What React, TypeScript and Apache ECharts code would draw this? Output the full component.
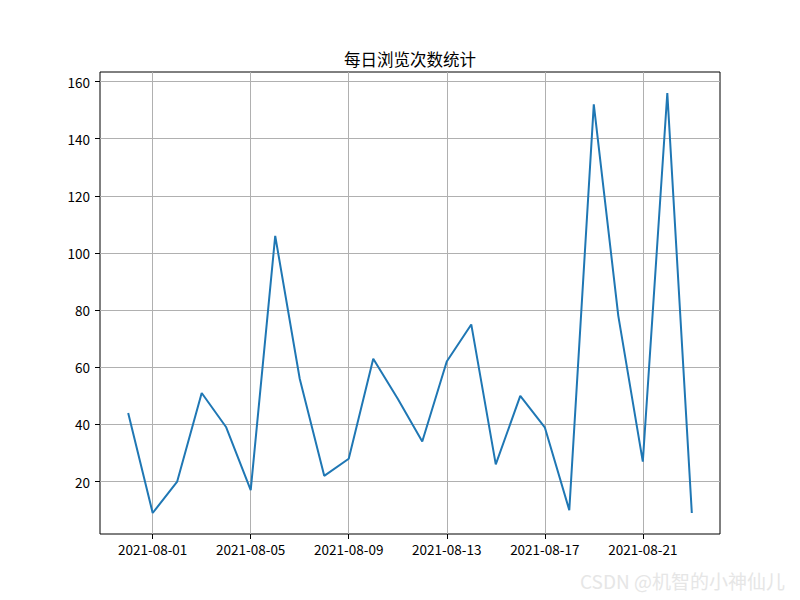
import React, { useEffect, useRef } from "react";
import * as echarts from "echarts";

const dates = [
  "2021-07-31", "2021-08-01", "2021-08-02", "2021-08-03", "2021-08-04", "2021-08-05",
  "2021-08-06", "2021-08-07", "2021-08-08", "2021-08-09", "2021-08-10", "2021-08-11",
  "2021-08-12", "2021-08-13", "2021-08-14", "2021-08-15", "2021-08-16", "2021-08-17",
  "2021-08-18", "2021-08-19", "2021-08-20", "2021-08-21", "2021-08-22", "2021-08-23",
];
const views = [44, 9, 20, 51, 39, 17, 106, 56, 22, 28, 63, 49, 34, 62, 75, 26, 50, 39, 10, 152, 78, 27, 156, 9];
const xTickLabels = ["2021-08-01", "2021-08-05", "2021-08-09", "2021-08-13", "2021-08-17", "2021-08-21"];
const yTicks = [20, 40, 60, 80, 100, 120, 140, 160];
const title = "每日浏览次数统计";
const watermark = "CSDN @机智的小神仙儿";

const FONT = "'Noto Sans CJK SC', 'Liberation Sans', sans-serif";

export default function App() {
  const ref = useRef<HTMLDivElement>(null);
  useEffect(() => {
    if (!ref.current) return;
    const chart = echarts.init(ref.current, undefined, { renderer: "svg" });
    const xTickIdx = xTickLabels.map((d) => dates.indexOf(d));
    const n = dates.length - 1;
    const vMin = Math.min(...views);
    const vMax = Math.max(...views);
    const xPad = n * 0.05;
    const yPad = (vMax - vMin) * 0.05;
    chart.setOption({
      animation: false,
      backgroundColor: "#ffffff",
      textStyle: { fontFamily: FONT },
      grid: {
        left: 100,
        top: 72,
        width: 620,
        height: 462,
        show: true,
        borderColor: "#000",
        borderWidth: 1,
        backgroundColor: "transparent",
      },
      graphic: [
        {
          type: "text",
          x: 410,
          y: 59,
          style: {
            text: title,
            fontFamily: FONT,
            fontSize: 16.5,
            fill: "#000",
            textAlign: "center",
            textVerticalAlign: "middle",
          },
        },
        {
          type: "text",
          x: 785,
          y: 580,
          style: {
            text: watermark,
            fontFamily: FONT,
            fontSize: 19,
            fill: "#e6e6e6",
            textAlign: "right",
            textVerticalAlign: "middle",
          },
        },
      ],
      xAxis: {
        type: "value",
        min: -xPad,
        max: n + xPad,
        position: "bottom",
        axisLine: { show: false, onZero: false },
        axisTick: {
          show: true,
          customValues: xTickIdx,
          length: 5,
          lineStyle: { color: "#000", width: 1 },
        },
        axisLabel: {
          customValues: xTickIdx,
          formatter: (v: number) => dates[Math.round(v)] ?? "",
          color: "#000",
          fontFamily: FONT,
          fontSize: 13.5,
          margin: 8,
        },
        splitLine: { show: true, lineStyle: { color: "#b0b0b0", width: 1 } },
      },
      yAxis: {
        type: "value",
        min: vMin - yPad,
        max: vMax + yPad,
        position: "left",
        axisLine: { show: false, onZero: false },
        axisTick: {
          show: true,
          customValues: yTicks,
          length: 5,
          lineStyle: { color: "#000", width: 1 },
        },
        axisLabel: {
          customValues: yTicks,
          color: "#000",
          fontFamily: FONT,
          fontSize: 13.5,
          margin: 10,
        },
        splitLine: { show: true, lineStyle: { color: "#b0b0b0", width: 1 } },
      },
      series: [
        {
          type: "line",
          data: views.map((v, i) => [i, v]),
          showSymbol: false,
          symbol: "none",
          lineStyle: { color: "#1f77b4", width: 2 },
          itemStyle: { color: "#1f77b4" },
          z: 3,
        },
      ],
    });
    return () => chart.dispose();
  }, []);
  return <div ref={ref} style={{ width: 800, height: 600, position: "absolute", left: 0, top: 0 }} />;
}
